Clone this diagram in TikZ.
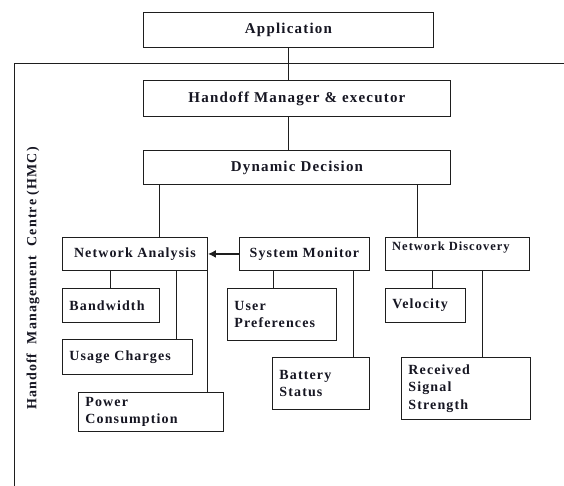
\documentclass[tikz,border=0pt]{standalone}
\usepackage{fontspec}
\setmainfont[LetterSpace=8]{Liberation Serif}
\usetikzlibrary{arrows.meta,shadows}
\definecolor{ink}{RGB}{22,22,34}
\definecolor{rule}{RGB}{30,30,30}

\tikzset{
  x=1pt, y=-1pt,
  every node/.style={text=ink},
  wire/.style={draw=rule, line width=0.9pt},
  boxbase/.style={draw=rule, line width=0.9pt, fill=white, rectangle, anchor=north west,
    drop shadow={shadow xshift=0.9pt, shadow yshift=-0.9pt, fill=black!40, opacity=1}},
  topbox/.style n args={2}{boxbase, minimum width=#1, minimum height=#2, text width=#1,
    inner xsep=0pt, inner ysep=0pt, align=center, font=\fontsize{15}{18}\selectfont\bfseries},
  midbox/.style n args={2}{boxbase, minimum width=#1, minimum height=#2, text width=#1,
    inner xsep=0pt, inner ysep=0pt, align=center, font=\fontsize{14}{17.5}\selectfont\bfseries},
  leafbox/.style n args={2}{boxbase, minimum width=#1, minimum height=#2, text width=#1-14pt,
    inner xsep=7pt, inner ysep=0pt, align=left, font=\fontsize{14}{17.5}\selectfont\bfseries},
}

\begin{document}
\begin{tikzpicture}
\useasboundingbox (0,0) rectangle (564,486);

% frame of the handoff management centre
\coordinate (ftr) at (564,63.5);
\coordinate (ftl) at (14,63.5);
\coordinate (fbl) at (14,486);
\draw[wire] (ftr) -- (ftl) -- (fbl);

\node[rotate=90, font=\fontsize{14}{17}\selectfont\bfseries] (hmc) at (33,278.5)
  {Handoff\ \ Management\ \ Centre (HMC)};

% upper chain
\node[topbox={290pt}{35pt}] (app) at (143,12) {Application};
\node[topbox={307pt}{36pt}] (hm) at (143,80) {Handoff Manager \& executor};
\node[topbox={307pt}{34pt}] (dd) at (143,150) {Dynamic Decision};

% second level
\node[midbox={145pt}{33pt}] (na) at (62,237) {Network Analysis};
\node[midbox={130pt}{33pt}] (sm) at (239,237) {System Monitor};
\node[boxbase, minimum width=144pt, minimum height=33pt, inner sep=0pt] (nd) at (385,237) {};
\node[anchor=west, inner sep=0pt, font=\fontsize{12.5}{15}\selectfont\bfseries] (ndtext)
  at ([xshift=7pt,yshift=-10.5pt]nd.north west) {Network Discovery};

% leaves
\node[leafbox={97pt}{34pt}] (bw) at (62,288) {Bandwidth};
\node[leafbox={130pt}{35pt}] (uc) at (62,339) {Usage Charges};
\node[leafbox={145pt}{39pt}] (pc) at (78,392) {Power\\Consumption};
\node[leafbox={109pt}{52pt}] (up) at (227,288) {User\\Preferences};
\node[leafbox={97pt}{52pt}] (bs) at (272,357) {Battery\\Status};
\node[leafbox={80pt}{34pt}] (vel) at (385,288) {Velocity};
\node[leafbox={129pt}{62pt}] (rss) at (401,357) {Received\\Signal\\Strength};

% connectors
\draw[wire] (app.south -| 288,0) -- (hm.north -| 288,0);
\draw[wire] (hm.south -| 288,0) -- (dd.north -| 288,0);
\draw[wire] ([xshift=97pt]na.north west) -- ([xshift=97pt]na.north west |- dd.south);
\draw[wire] ([xshift=32pt]nd.north west) -- ([xshift=32pt]nd.north west |- dd.south);
\draw[wire] ([xshift=48pt]na.south west) -- ([xshift=48pt]na.south west |- bw.north);
\draw[wire] ([xshift=114pt]na.south west) -- ([xshift=114pt]na.south west |- uc.north);
\draw[wire] (na.south east) -- (na.south east |- pc.north);
\draw[wire] ([xshift=34pt]sm.south west) -- ([xshift=34pt]sm.south west |- up.north);
\draw[wire] ([xshift=114pt]sm.south west) -- ([xshift=114pt]sm.south west |- bs.north);
\draw[wire] ([xshift=47pt]nd.south west) -- ([xshift=47pt]nd.south west |- vel.north);
\draw[wire] ([xshift=97pt]nd.south west) -- ([xshift=97pt]nd.south west |- rss.north);

% monitoring feeds the analysis
\draw[draw=rule, line width=1.8pt, -{Latex[length=8pt,width=8pt]}] (sm.west) -- (na.east);
\end{tikzpicture}
\end{document}
